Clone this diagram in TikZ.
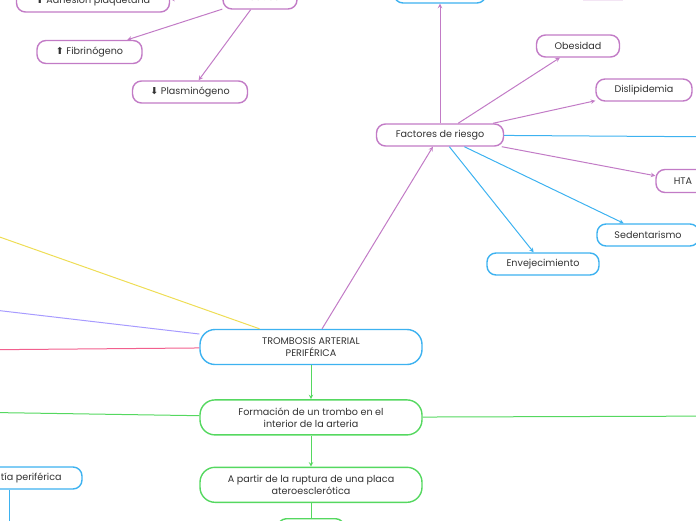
\documentclass[tikz,border=0pt]{standalone}
\usepackage{fontspec}
\setmainfont{Poppins}
\newfontfamily\symfont{DejaVu Sans}
\usetikzlibrary{shapes,arrows,positioning}

\definecolor{azul}{HTML}{3DB2F0}
\definecolor{lila}{HTML}{C27BC6}
\definecolor{verde}{HTML}{55D860}
\definecolor{amarillo}{HTML}{EEDD55}
\definecolor{lavanda}{HTML}{A79BFF}
\definecolor{rosa}{HTML}{F2608E}
\definecolor{texto}{HTML}{333333}

\begin{document}
\begin{tikzpicture}[
    x=1pt, y=-1pt,
    caja/.style={draw, line width=1.4pt, fill=white, rounded corners=9pt, minimum height=22pt, align=center, text=texto, font=\fontsize{9.6}{12}\selectfont},
    grande/.style={caja, minimum width=222pt, minimum height=35pt, rounded corners=15pt},
    arrow/.style={line width=1pt,->,>=stealth},
    linea/.style={line width=1pt}
]
    \useasboundingbox (0,0) rectangle (696,520);
    \clip (0,0) rectangle (696,520);

    \node (trombosis) [grande, draw=azul] at (311,347) {TROMBOSIS ARTERIAL\\PERIFÉRICA};
    \node (formacion) [grande, draw=verde, below=34pt of trombosis] {Formación de un trombo en el\\interior de la arteria};
    \node (ruptura) [grande, draw=verde, below=31pt of formacion] {A partir de la ruptura de una placa\\ateroesclerótica};
    \node (siguiente) [caja, draw=verde, minimum width=67pt, below=15pt of ruptura] {};

    \node (factores) [caja, draw=lila, minimum width=127pt] at (440,135) {Factores de riesgo};
    \node (arriba) [caja, draw=azul, minimum width=92pt] at (440,-8) {};
    \node (rosado) [fill=lila!20, minimum width=40pt, minimum height=22pt] at (603,-10) {};
    \node (obesidad) [caja, draw=lila, minimum width=83pt] at (578,46) {Obesidad};
    \node (dislipidemia) [caja, draw=lila, minimum width=96pt] at (644,90) {Dislipidemia};
    \node (hta) [caja, draw=lila, minimum width=54pt, minimum height=23pt] at (683,181) {HTA};
    \node (sedentarismo) [caja, draw=azul, minimum width=102pt] at (648,235) {Sedentarismo};
    \node (envejecimiento) [caja, draw=azul, minimum width=112pt] at (543,264) {Envejecimiento};

    \node (produce) [caja, draw=lila, minimum width=74pt, minimum height=24pt] at (260,-3) {Produce};
    \node (adhesion) [caja, draw=lila, minimum width=153pt] at (93,1) {{\symfont ⬆} Adhesión plaquetaria};
    \node (fibrinogeno) [caja, draw=lila, minimum width=105pt, minimum height=23pt] at (89.5,52) {{\symfont ⬆} Fibrinógeno};
    \node (plasminogeno) [caja, draw=lila, minimum width=115pt] at (190,92) {{\symfont ⬇} Plasminógeno};

    \node (arteriopatia) [caja, draw=azul, minimum width=146pt] at (9,478) {Arteriopatía periférica};

    % ramas que salen del cuadro
    \coordinate (finamarillo) at (-40,223);
    \coordinate (finlavanda) at (-40,306);
    \coordinate (finrosa) at (-40,350);
    \coordinate (finverdeizq) at (-40,412);
    \coordinate (finverdeder) at (740,416);
    \coordinate (finazul) at (740,137);
    \coordinate (finabajo) at (9,540);

    \draw [linea, amarillo] (trombosis) -- (finamarillo);
    \draw [linea, lavanda] (trombosis) -- (finlavanda);
    \draw [linea, rosa] (trombosis) -- (finrosa);
    \draw [linea, verde] (formacion) -- (finverdeizq);
    \draw [linea, verde] (formacion) -- (finverdeder);
    \draw [linea, azul] (factores) -- (finazul);
    \draw [linea, azul] (arteriopatia) -- (finabajo);

    \draw [arrow, verde] (trombosis) -- (formacion);
    \draw [arrow, verde] (formacion) -- (ruptura);
    \draw [linea, verde] (ruptura) -- (siguiente);

    \draw [arrow, lila] (trombosis) -- (factores);
    \draw [arrow, lila] (factores) -- (arriba);
    \draw [arrow, lila] (factores) -- (obesidad);
    \draw [arrow, lila] (factores) -- (dislipidemia);
    \draw [arrow, lila] (factores) -- (hta);
    \draw [arrow, azul] (factores) -- (sedentarismo);
    \draw [arrow, azul] (factores) -- (envejecimiento);

    \draw [arrow, lila] (produce) -- (adhesion);
    \draw [arrow, lila] (produce) -- (fibrinogeno);
    \draw [arrow, lila] (produce) -- (plasminogeno);
\end{tikzpicture}
\end{document}
